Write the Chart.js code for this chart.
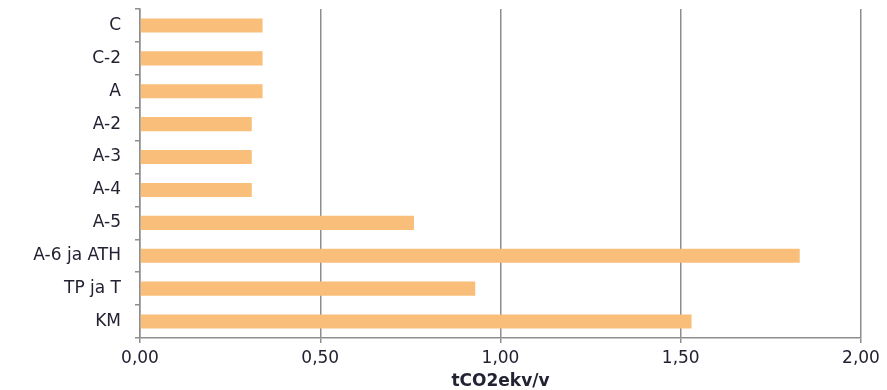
<!DOCTYPE html>
<html>
<head>
<meta charset="utf-8">
<script src="https://cdn.jsdelivr.net/npm/chart.js@4/dist/chart.umd.min.js"></script>
<style>
  html, body { margin: 0; padding: 0; background: #fff; }
  #wrap { width: 887px; height: 390px; }
</style>
</head>
<body>
<div id="wrap"><canvas id="co2Chart"></canvas></div>
<script>
const categories = ['C', 'C-2', 'A', 'A-2', 'A-3', 'A-4', 'A-5', 'A-6 ja ATH', 'TP ja T', 'KM'];
const values = [0.34, 0.34, 0.34, 0.31, 0.31, 0.31, 0.76, 1.83, 0.93, 1.53];
const xTicks = [0, 0.5, 1, 1.5, 2];
const axisTitle = 'tCO2ekv/v';

const gridGray = '#8e8e8e';
const textColor = '#222233';

const ctx = document.getElementById('co2Chart').getContext('2d');
const co2Chart = new Chart(ctx, {
  type: 'bar',
  data: {
    labels: categories,
    datasets: [{
      data: values,
      backgroundColor: '#f9be7a',
      borderWidth: 0,
      categoryPercentage: 1,
      barPercentage: 0.43
    }]
  },
  options: {
    indexAxis: 'y',
    responsive: true,
    maintainAspectRatio: false,
    animation: false,
    layout: {
      padding: { top: 9, right: 26, left: 0, bottom: 0 }
    },
    scales: {
      x: {
        min: 0,
        max: 2,
        afterBuildTicks: (axis) => {
          axis.ticks = xTicks.map(v => ({ value: v }));
        },
        afterFit: (axis) => { axis.height = 52; },
        ticks: {
          color: textColor,
          font: { family: 'DejaVu Sans', size: 17 },
          padding: 5,
          maxRotation: 0,
          callback: (v) => Number(v).toFixed(2).replace('.', ',')
        },
        grid: {
          color: gridGray,
          lineWidth: 1.5,
          drawTicks: true,
          tickLength: 5
        },
        border: { display: true, color: gridGray, width: 1.5 },
        title: {
          display: true,
          text: axisTitle,
          color: textColor,
          font: { family: 'DejaVu Sans', size: 17, weight: 'bold' },
          padding: { top: 0, bottom: -2 }
        }
      },
      y: {
        afterFit: (axis) => {
          axis.width = 140;
          axis.paddingTop = 0;
          axis.paddingBottom = 0;
        },
        ticks: {
          color: textColor,
          font: { family: 'DejaVu Sans', size: 17 },
          padding: 14
        },
        grid: {
          offset: true,
          drawOnChartArea: false,
          drawTicks: true,
          tickLength: 5,
          color: gridGray,
          lineWidth: 1.5
        },
        border: { display: true, color: gridGray, width: 1.5 }
      }
    },
    plugins: {
      legend: { display: false },
      tooltip: { enabled: false }
    }
  }
});
</script>
</body>
</html>
